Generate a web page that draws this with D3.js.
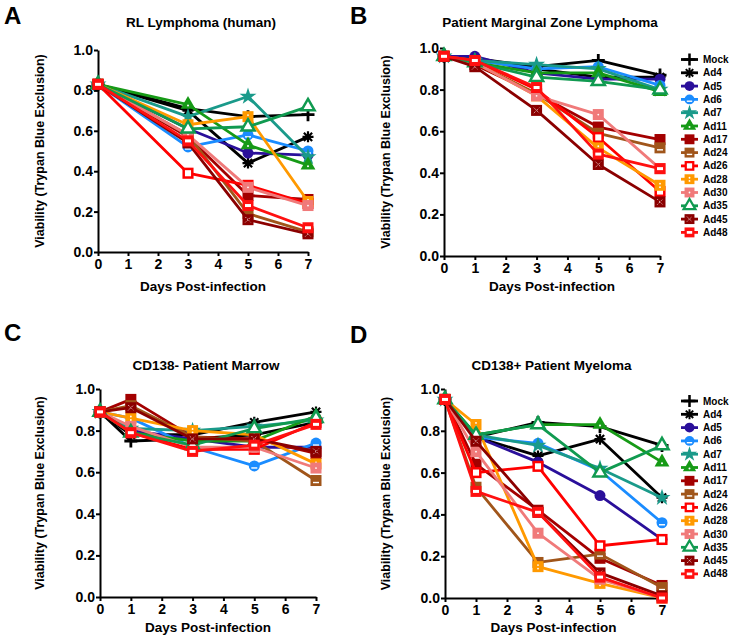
<!DOCTYPE html>
<html>
<head>
<meta charset="utf-8">
<script src="https://cdn.jsdelivr.net/npm/d3@7"></script>
<style>
  html, body { margin: 0; padding: 0; background: #fff; }
  svg { display: block; font-family: "Liberation Sans", Arial, sans-serif; font-weight: bold; }
</style>
</head>
<body>
<svg id="chart" width="733" height="642"></svg>
<script>
// ---------- data ----------
const seriesNames = ["Mock","Ad4","Ad5","Ad6","Ad7","Ad11","Ad17","Ad24","Ad26","Ad28","Ad30","Ad35","Ad45","Ad48"];
const seriesColors = ["#000000","#000000","#2a0f9a","#1a8cff","#1a9a8a","#169a16","#a30000","#a0551a","#ff0000","#ff9900","#f07a7a","#109a50","#8b0000","#ff1010"];
const seriesMarkers = ["plus","asterisk","circle","circleBar","star","triangleDot","square","squareBar","squareOpen","squareDots","squareDot","triangleOpen","squareX","squareBand"];

const daysA = [0, 3, 5, 7];
const daysBCD = [0, 1, 3, 5, 7];
const xTicks = [0,1,2,3,4,5,6,7];
const yTicks = [0, 0.2, 0.4, 0.6, 0.8, 1.0];

const titles = ["RL Lymphoma (human)", "Patient Marginal Zone Lymphoma", "CD138- Patient Marrow", "CD138+ Patient Myeloma"];
const letters = ["A", "B", "C", "D"];

// Panel A (days 0,3,5,7)
const rlLymphoma = [
  [0.83, 0.71, 0.67, 0.68],
  [0.83, 0.70, 0.44, 0.57],
  [0.83, 0.61, 0.49, 0.48],
  [0.83, 0.52, 0.58, 0.50],
  [0.83, 0.67, 0.77, 0.47],
  [0.83, 0.73, 0.53, 0.43],
  [0.83, 0.57, 0.28, 0.26],
  [0.83, 0.58, 0.19, 0.10],
  [0.83, 0.39, 0.33, 0.24],
  [0.83, 0.63, 0.67, 0.25],
  [0.83, 0.58, 0.32, 0.23],
  [0.83, 0.61, 0.62, 0.72],
  [0.83, 0.54, 0.16, 0.09],
  [0.83, 0.55, 0.23, 0.12]
];
// Panel B (days 0,1,3,5,7)
const marginalZone = [
  [0.96, 0.95, 0.91, 0.94, 0.87],
  [0.96, 0.95, 0.90, 0.86, 0.86],
  [0.96, 0.96, 0.88, 0.85, 0.85],
  [0.96, 0.94, 0.90, 0.91, 0.82],
  [0.96, 0.94, 0.92, 0.90, 0.80],
  [0.96, 0.93, 0.88, 0.88, 0.79],
  [0.96, 0.92, 0.78, 0.62, 0.56],
  [0.96, 0.93, 0.78, 0.59, 0.52],
  [0.96, 0.94, 0.80, 0.57, 0.31],
  [0.96, 0.93, 0.77, 0.52, 0.34],
  [0.96, 0.93, 0.77, 0.68, 0.42],
  [0.96, 0.93, 0.86, 0.84, 0.80],
  [0.96, 0.91, 0.70, 0.44, 0.26],
  [0.96, 0.94, 0.81, 0.49, 0.42]
];
// Panel C
const cd138Neg = [
  [0.89, 0.75, 0.76, 0.78, 0.84],
  [0.89, 0.78, 0.78, 0.84, 0.89],
  [0.89, 0.80, 0.76, 0.72, 0.72],
  [0.89, 0.86, 0.72, 0.63, 0.74],
  [0.89, 0.81, 0.80, 0.82, 0.85],
  [0.89, 0.79, 0.75, 0.75, 0.87],
  [0.89, 0.95, 0.77, 0.76, 0.69],
  [0.89, 0.92, 0.77, 0.75, 0.56],
  [0.89, 0.79, 0.71, 0.71, 0.84],
  [0.89, 0.86, 0.80, 0.78, 0.64],
  [0.89, 0.82, 0.72, 0.72, 0.62],
  [0.89, 0.79, 0.73, 0.81, 0.86],
  [0.89, 0.91, 0.76, 0.76, 0.70],
  [0.89, 0.79, 0.70, 0.73, 0.83]
];
// Panel D
const cd138Pos = [
  [0.95, 0.77, 0.84, 0.82, 0.73],
  [0.95, 0.77, 0.68, 0.76, 0.48],
  [0.95, 0.77, 0.65, 0.49, 0.28],
  [0.95, 0.77, 0.74, 0.61, 0.36],
  [0.95, 0.78, 0.73, 0.62, 0.48],
  [0.95, 0.78, 0.83, 0.83, 0.65],
  [0.95, 0.64, 0.42, 0.19, 0.06],
  [0.95, 0.53, 0.17, 0.21, 0.05],
  [0.95, 0.60, 0.63, 0.25, 0.28],
  [0.95, 0.83, 0.15, 0.07, 0.00],
  [0.95, 0.70, 0.31, 0.09, 0.00],
  [0.95, 0.78, 0.83, 0.60, 0.73],
  [0.95, 0.75, 0.41, 0.12, 0.01],
  [0.95, 0.51, 0.41, 0.10, 0.00]
];

// ---------- layout ----------
const panels = [
  { days: daysA,   values: rlLymphoma,   x0: 98,  x1: 308, yTop: 50,  yBot: 252, legend: false },
  { days: daysBCD, values: marginalZone, x0: 444, x1: 660, yTop: 48,  yBot: 256, legend: true, legendY: 59.5 },
  { days: daysBCD, values: cd138Neg,     x0: 100, x1: 316, yTop: 389, yBot: 597, legend: false },
  { days: daysBCD, values: cd138Pos,     x0: 445, x1: 662, yTop: 389, yBot: 598, legend: true, legendY: 401 }
];
const letterPos = [[4, 24], [350, 24], [4, 341], [350, 343]];
const titleY = [27, 27, 370, 370];
const xTitleY = [291, 291, 632, 632];
const yTitleX = [44, 390, 44, 390];

const svg = d3.select("#chart");

function drawMarker(g, type, color, k) {
  const s = 5.5 * k; // half size
  const sw = 2.5 * k;
  switch (type) {
    case "plus":
      g.append("path").attr("d", `M${-s-1},0H${s+1}M0,${-s-1}V${s+1}`).attr("stroke", color).attr("stroke-width", 2.8 * k).attr("fill", "none");
      break;
    case "asterisk":
      g.append("path").attr("d", `M${-s},0H${s}M0,${-s}V${s}M${-s*0.75},${-s*0.75}L${s*0.75},${s*0.75}M${-s*0.75},${s*0.75}L${s*0.75},${-s*0.75}`).attr("stroke", color).attr("stroke-width", 2.2 * k).attr("fill", "none");
      break;
    case "circle":
      g.append("circle").attr("r", s).attr("fill", color);
      break;
    case "circleBar":
      g.append("circle").attr("r", s).attr("fill", color);
      g.append("path").attr("d", `M${-3*k},${2*k}H${3*k}`).attr("stroke", "#fff").attr("stroke-width", 1.4);
      break;
    case "star":
      g.append("path").attr("d", d3.symbol(d3.symbolStar, 90 * k * k)()).attr("fill", color);
      break;
    case "triangleDot":
      g.append("path").attr("d", d3.symbol(d3.symbolTriangle, 95 * k * k)()).attr("fill", color);
      g.append("circle").attr("r", 1).attr("cy", 1).attr("fill", "#fff");
      break;
    case "triangleOpen":
      g.append("path").attr("d", d3.symbol(d3.symbolTriangle, 75 * k * k)()).attr("fill", "#fff").attr("stroke", color).attr("stroke-width", sw);
      break;
    case "square":
      g.append("rect").attr("x", -s).attr("y", -s).attr("width", 2*s).attr("height", 2*s).attr("fill", color);
      break;
    case "squareBar":
      g.append("rect").attr("x", -s).attr("y", -s).attr("width", 2*s).attr("height", 2*s).attr("fill", color);
      g.append("path").attr("d", `M${-3*k},${2*k}H${3*k}`).attr("stroke", "#fff").attr("stroke-width", 1.4);
      break;
    case "squareOpen":
      g.append("rect").attr("x", -s+1.2).attr("y", -s+1.2).attr("width", 2*s-2.4).attr("height", 2*s-2.4).attr("fill", "#fff").attr("stroke", color).attr("stroke-width", sw);
      break;
    case "squareBand":
      g.append("rect").attr("x", -s).attr("y", -s).attr("width", 2*s).attr("height", 2*s).attr("fill", color);
      g.append("rect").attr("x", -3*k).attr("y", -1.5*k).attr("width", 6*k).attr("height", 3*k).attr("fill", "#fff");
      break;
    case "squareDots":
      g.append("rect").attr("x", -s).attr("y", -s).attr("width", 2*s).attr("height", 2*s).attr("fill", color);
      g.append("circle").attr("r", 0.9).attr("cy", -1.6*k).attr("fill", "#fff");
      g.append("circle").attr("r", 0.9).attr("cy", 1.9*k).attr("fill", "#fff");
      break;
    case "squareDot":
      g.append("rect").attr("x", -s).attr("y", -s).attr("width", 2*s).attr("height", 2*s).attr("fill", color);
      g.append("circle").attr("r", 0.9).attr("fill", "#fff");
      break;
    case "squareX":
      g.append("rect").attr("x", -s).attr("y", -s).attr("width", 2*s).attr("height", 2*s).attr("fill", color);
      g.append("path").attr("d", `M${-2.7*k},${-2.7*k}L${2.7*k},${2.7*k}M${-2.7*k},${2.7*k}L${2.7*k},${-2.7*k}`).attr("stroke", "#fff").attr("stroke-width", 0.8).attr("stroke-dasharray", "1.2,1.2");
      break;
  }
}

panels.forEach((p, pi) => {
  const x = d3.scaleLinear().domain([0, 7]).range([p.x0, p.x1]);
  const y = d3.scaleLinear().domain([0, 1]).range([p.yBot, p.yTop]);
  const g = svg.append("g");

  // axes
  const yAxis = d3.axisLeft(y).tickValues(yTicks).tickFormat(d3.format(".1f")).tickSize(4).tickSizeOuter(0).tickPadding(1);
  const xAxis = d3.axisBottom(x).tickValues(xTicks).tickFormat(d3.format("d")).tickSize(4).tickSizeOuter(0).tickPadding(3);
  const gy = g.append("g").attr("transform", `translate(${p.x0},0)`).call(yAxis);
  const gx = g.append("g").attr("transform", `translate(0,${p.yBot})`).call(xAxis);
  [gx, gy].forEach(a => {
    a.select(".domain").attr("stroke", "#000").attr("stroke-width", 2);
    a.selectAll(".tick line").attr("stroke", "#000").attr("stroke-width", 2);
    a.selectAll(".tick text").attr("fill", "#000").style("font-size", "14px").style("font-weight", "bold").style("font-family", "'Liberation Sans', Arial, sans-serif");
  });

  // titles
  svg.append("text").attr("x", (p.x0 + p.x1) / 2 - 2).attr("y", titleY[pi]).attr("text-anchor", "middle")
    .style("font-size", "13.5px").text(titles[pi]);
  svg.append("text").attr("x", (p.x0 + p.x1) / 2).attr("y", xTitleY[pi]).attr("text-anchor", "middle")
    .style("font-size", "13.5px").text("Days Post-infection");
  svg.append("text").attr("transform", `translate(${yTitleX[pi]},${(p.yTop + p.yBot) / 2}) rotate(-90)`).attr("text-anchor", "middle")
    .style("font-size", "12.5px").text("Viability (Trypan Blue Exclusion)");
  svg.append("text").attr("x", letterPos[pi][0]).attr("y", letterPos[pi][1]).style("font-size", "24px").text(letters[pi]);

  // series
  const line = d3.line().x(d => x(d[0])).y(d => y(d[1]));
  seriesNames.forEach((name, si) => {
    const pts = p.days.map((dd, k) => [dd, p.values[si][k]]);
    g.append("path").datum(pts).attr("d", line).attr("fill", "none")
      .attr("stroke", seriesColors[si]).attr("stroke-width", 2.8).attr("stroke-linejoin", "round");
    pts.forEach(pt => {
      const mg = g.append("g").attr("transform", `translate(${x(pt[0])},${y(pt[1])})`);
      drawMarker(mg, seriesMarkers[si], seriesColors[si], 1);
    });
  });

  // legend
  if (p.legend) {
    const lg = svg.append("g");
    seriesNames.forEach((name, si) => {
      const ly = p.legendY + si * 13.3;
      lg.append("path").attr("d", `M681,${ly}H698`).attr("stroke", seriesColors[si]).attr("stroke-width", 2.8);
      const mg = lg.append("g").attr("transform", `translate(689.5,${ly})`);
      drawMarker(mg, seriesMarkers[si], seriesColors[si], 0.9);
      lg.append("text").attr("x", 703).attr("y", ly).attr("dy", "0.35em").style("font-size", "10px").text(name);
    });
  }
});
</script>
</body>
</html>
